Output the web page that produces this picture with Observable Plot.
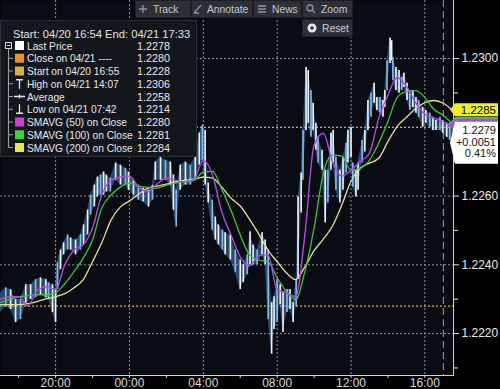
<!DOCTYPE html>
<html><head><meta charset="utf-8">
<script src="https://cdn.jsdelivr.net/npm/d3@7"></script>
<script src="https://cdn.jsdelivr.net/npm/@observablehq/plot@0.6"></script>
<style>
html,body{margin:0;padding:0;background:#000;}
#wrap{position:relative;width:500px;height:389px;overflow:hidden;background:#000;}
#wrap svg{display:block}
.ov{position:absolute;left:0;top:0;pointer-events:none;}
</style></head><body><div id="wrap"></div>
<script>
// ---------- DATA ----------
const barTimes = [
"04/20 16:55","04/20 17:18","04/20 17:34","04/20 17:50","04/20 18:06","04/20 18:23","04/20 18:39","04/20 18:55","04/20 19:11","04/20 19:28",
"04/20 19:37","04/20 19:50","04/20 20:00","04/20 20:06","04/20 20:16","04/20 20:26","04/20 20:39","04/20 20:49","04/20 21:05","04/20 21:21",
"04/20 21:31","04/20 21:44","04/20 21:54","04/20 22:06","04/20 22:16","04/20 22:26","04/20 22:36","04/20 22:45","04/20 22:58","04/20 23:15",
"04/20 23:31","04/20 23:47","04/20 23:57","04/21 00:13","04/21 00:29","04/21 00:45","04/21 01:02","04/21 01:15","04/21 01:24","04/21 01:41",
"04/21 01:57","04/21 02:13","04/21 02:23","04/21 02:32","04/21 02:45","04/21 03:02","04/21 03:18","04/21 03:34","04/21 03:47","04/21 03:57",
"04/21 04:06","04/21 04:16","04/21 04:29","04/21 04:39","04/21 04:49","04/21 05:02","04/21 05:11","04/21 05:28","04/21 05:44","04/21 06:00",
"04/21 06:10","04/21 06:23","04/21 06:32","04/21 06:42","04/21 06:55","04/21 07:11","04/21 07:21","04/21 07:31","04/21 07:42","04/21 07:50",
"04/21 08:00","04/21 08:10","04/21 08:19","04/21 08:32","04/21 08:42","04/21 08:52","04/21 09:02","04/21 09:08","04/21 09:18","04/21 09:24",
"04/21 09:34","04/21 09:41","04/21 09:50","04/21 09:57","04/21 10:06","04/21 10:13","04/21 10:26","04/21 10:36","04/21 10:45","04/21 10:55",
"04/21 11:02","04/21 11:11","04/21 11:24","04/21 11:34","04/21 11:44","04/21 11:50","04/21 12:00","04/21 12:06","04/21 12:16","04/21 12:23",
"04/21 12:36","04/21 12:45","04/21 12:55","04/21 13:05","04/21 13:15","04/21 13:24","04/21 13:34","04/21 13:44","04/21 13:50","04/21 13:57",
"04/21 14:07","04/21 14:12","04/21 14:16","04/21 14:26","04/21 14:36","04/21 14:45","04/21 14:52","04/21 15:02","04/21 15:11","04/21 15:21",
"04/21 15:31","04/21 15:40","04/21 15:53","04/21 16:03","04/21 16:16","04/21 16:26","04/21 16:36","04/21 16:49","04/21 16:58","04/21 17:11","04/21 17:21","04/21 17:33"
];
const barHigh = [
1.22313,1.22333,1.22328,1.22299,1.22299,1.22342,1.22342,1.22357,1.22362,1.22357,
1.22348,1.22342,1.22328,1.22406,1.22443,1.22464,1.22487,1.22478,1.22472,1.22487,
1.22516,1.22559,1.22603,1.22632,1.22655,1.22661,1.22670,1.22661,1.22652,1.22696,
1.22690,1.22681,1.22670,1.22646,1.22632,1.22623,1.22617,1.22632,1.22699,1.22713,
1.22704,1.22699,1.22661,1.22617,1.22690,1.22699,1.22690,1.22713,1.22783,1.22806,
1.22791,1.22638,1.22588,1.22539,1.22516,1.22501,1.22493,1.22487,1.22443,1.22414,
1.22400,1.22429,1.22496,1.22458,1.22443,1.22493,1.22472,1.22443,1.22290,1.22307,
1.22357,1.22342,1.22319,1.22328,1.22328,1.22290,1.22357,1.22597,1.22667,1.22791,
1.22974,1.22965,1.22907,1.22870,1.22812,1.22771,1.22733,1.22675,1.22675,1.22783,
1.22791,1.22713,1.22675,1.22713,1.22754,1.22791,1.22800,1.22696,1.22675,1.22696,
1.22762,1.22791,1.22878,1.22899,1.22928,1.22887,1.22887,1.22878,1.22907,1.22994,
1.23060,1.23052,1.23003,1.22974,1.22965,1.22945,1.22957,1.22928,1.22907,1.22907,
1.22887,1.22878,1.22858,1.22849,1.22841,1.22829,1.22820,1.22829,1.22820,1.22812,1.22812,1.22800
];
const barLow = [
1.22255,1.22278,1.22270,1.22232,1.22241,1.22284,1.22299,1.22304,1.22313,1.22304,
1.22299,1.22261,1.22232,1.22328,1.22386,1.22429,1.22443,1.22443,1.22429,1.22443,
1.22458,1.22487,1.22545,1.22568,1.22597,1.22603,1.22603,1.22612,1.22612,1.22646,
1.22632,1.22632,1.22617,1.22603,1.22588,1.22583,1.22568,1.22588,1.22646,1.22646,
1.22646,1.22632,1.22559,1.22510,1.22617,1.22632,1.22632,1.22646,1.22690,1.22704,
1.22632,1.22580,1.22501,1.22472,1.22458,1.22443,1.22429,1.22414,1.22377,1.22328,
1.22348,1.22371,1.22400,1.22400,1.22400,1.22429,1.22400,1.22241,1.22140,1.22212,
1.22232,1.22284,1.22203,1.22261,1.22270,1.22232,1.22278,1.22357,1.22551,1.22646,
1.22791,1.22812,1.22771,1.22791,1.22733,1.22696,1.22675,1.22522,1.22580,1.22675,
1.22696,1.22617,1.22580,1.22617,1.22667,1.22696,1.22713,1.22626,1.22597,1.22617,
1.22696,1.22728,1.22791,1.22829,1.22870,1.22849,1.22841,1.22829,1.22858,1.22907,
1.22986,1.22994,1.22936,1.22907,1.22899,1.22907,1.22916,1.22878,1.22849,1.22858,
1.22841,1.22829,1.22800,1.22812,1.22800,1.22791,1.22791,1.22791,1.22783,1.22771,1.22762,1.22770
];
const maTimes = [
"04/20 17:00","04/20 17:30","04/20 18:00","04/20 18:30","04/20 19:00","04/20 19:30","04/20 20:00","04/20 20:30","04/20 21:00","04/20 21:30",
"04/20 22:00","04/20 22:30","04/20 23:00","04/20 23:30","04/21 00:00","04/21 00:30","04/21 01:00","04/21 01:30","04/21 02:00","04/21 02:30",
"04/21 03:00","04/21 03:30","04/21 04:00","04/21 04:30","04/21 05:00","04/21 05:30","04/21 06:00","04/21 06:30","04/21 07:00","04/21 07:30",
"04/21 08:00","04/21 08:30","04/21 09:00","04/21 09:30","04/21 10:00","04/21 10:30","04/21 11:00","04/21 11:30","04/21 12:00","04/21 12:30",
"04/21 13:00","04/21 13:30","04/21 14:00","04/21 14:30","04/21 15:00","04/21 15:30","04/21 16:00","04/21 16:30","04/21 17:00","04/21 17:30"
];
const sma50 = [
1.22299,1.22307,1.22307,1.22281,1.22325,1.22336,1.22328,1.22400,1.22443,1.22458,
1.22507,1.22603,1.22646,1.22655,1.22658,1.22626,1.22612,1.22635,1.22652,1.22646,
1.22641,1.22649,1.22704,1.22661,1.22554,1.22487,1.22423,1.22397,1.22426,1.22429,
1.22328,1.22319,1.22307,1.22487,1.22748,1.22783,1.22699,1.22658,1.22675,1.22701,
1.22725,1.22826,1.22893,1.22945,1.22919,1.22872,1.22838,1.22826,1.22817,1.22800
];
const sma100 = [
1.22290,1.22299,1.22307,1.22310,1.22313,1.22313,1.22319,1.22345,1.22380,1.22420,
1.22472,1.22565,1.22603,1.22626,1.22638,1.22629,1.22626,1.22623,1.22632,1.22638,
1.22643,1.22646,1.22670,1.22672,1.22620,1.22559,1.22487,1.22429,1.22414,1.22409,
1.22362,1.22322,1.22299,1.22380,1.22507,1.22667,1.22719,1.22716,1.22675,1.22681,
1.22704,1.22754,1.22817,1.22887,1.22904,1.22907,1.22887,1.22852,1.22835,1.22809
];
const sma200 = [
1.22284,1.22284,1.22284,1.22287,1.22293,1.22301,1.22307,1.22316,1.22333,1.22357,
1.22409,1.22464,1.22530,1.22568,1.22586,1.22606,1.22623,1.22629,1.22635,1.22641,
1.22646,1.22649,1.22655,1.22652,1.22626,1.22594,1.22571,1.22533,1.22490,1.22443,
1.22409,1.22377,1.22357,1.22394,1.22441,1.22475,1.22513,1.22574,1.22643,1.22681,
1.22696,1.22710,1.22759,1.22803,1.22829,1.22855,1.22872,1.22878,1.22870,1.22849
];
const startPrice = 1.2228;
const closePrice = 1.2280;
const lastPrice = 1.2279;
const tag200 = 1.2285;
const netChange = "+0.0051";
const pctChange = "0.41%";
const yGridTicks = [1.2220, 1.2240, 1.2260, 1.2280, 1.2300];
const yLabelTicks = [1.2220, 1.2240, 1.2260, 1.2300];
const yMinorTicks = [1.2210, 1.2230, 1.2250, 1.2270, 1.2290];
const xTickTimes = ["04/20 20:00","04/21 00:00","04/21 04:00","04/21 08:00","04/21 12:00","04/21 16:00"];
const xMinorTimes = ["04/20 18:00","04/20 22:00","04/21 02:00","04/21 06:00","04/21 10:00","04/21 14:00"];
const sessionTime = "04/21 17:00";
const domainStart = "04/20 17:01";
const domainEnd = "04/21 17:33";
const yDomain = [1.22078, 1.23169];
const legendHeader = "Start: 04/20 16:54 End: 04/21 17:33";
const legendLabels = ["Last Price","Close on 04/21 ----","Start on 04/20 16:55","High on 04/21 14:07","Average","Low on 04/21 07:42","SMAVG (50) on Close","SMAVG (100) on Close","SMAVG (200) on Close"];
const legendValues = ["1.2278","1.2280","1.2228","1.2306","1.2258","1.2214","1.2280","1.2281","1.2284"];
const legendKinds = ["box","box","box","high","avg","low","box","box","box"];
const legendColors = ["#ffffff","#e8922e","#d6b33c",null,null,null,"#d43ad8","#33d433","#e8e842"];
const toolLabels = ["Track","Annotate","News","Zoom","Reset"];

// ---------- BUILD ----------
const parse = s => d3.utcParse("%Y/%m/%d %H:%M")("2018/" + s);
const bars = barTimes.map((t, i) => ({t: parse(t), hi: barHigh[i], lo: barLow[i], i}));
const ma = maTimes.map((t, i) => ({t: parse(t), v50: sma50[i], v100: sma100[i], v200: sma200[i]}));
const FONT = "'Liberation Sans', Arial, sans-serif";

const chart = Plot.plot({
  width: 500, height: 389,
  marginLeft: 0, marginTop: 0, marginRight: 47, marginBottom: 14,
  style: {background: "#000", color: "#e2e2e2", fontFamily: FONT, fontSize: "12px"},
  x: {type: "utc", domain: [parse(domainStart), parse(domainEnd)], label: null},
  y: {domain: yDomain, label: null},
  color: {type: "identity"},
  marks: [
    Plot.frame({fill: "#090c12", stroke: "none"}),
    Plot.ruleY(yGridTicks, {stroke: "#8d939b", strokeDasharray: "2,2", strokeWidth: 1}),
    Plot.ruleX(xTickTimes.map(parse), {stroke: "#8d939b", strokeDasharray: "2,2", strokeWidth: 1}),
    Plot.ruleX([parse(sessionTime)], {stroke: "#9aa0a8", strokeDasharray: "7,4", strokeWidth: 1}),
    Plot.ruleY([startPrice], {stroke: "#d8b640", strokeDasharray: "2,2", strokeWidth: 1.3}),
    Plot.ruleY([closePrice], {stroke: "#e3a050", strokeDasharray: "2,2", strokeWidth: 1.3}),
    Plot.areaY(bars, {x: "t", y1: "lo", y2: "hi", fill: "#4a88c6", fillOpacity: 0.5}),
    Plot.ruleX(bars, {x: "t", y1: "lo", y2: "hi", stroke: d => d.i % 3 === 1 ? "#86baec" : "#f2f6fa", strokeWidth: 1.6}),
    Plot.line(ma, {x: "t", y: "v200", stroke: "#e6df98", strokeWidth: 1.3, curve: "monotone-x"}),
    Plot.line(ma, {x: "t", y: "v100", stroke: "#3cc43c", strokeWidth: 1.3, curve: "monotone-x"}),
    Plot.line(ma, {x: "t", y: "v50", stroke: "#b248dc", strokeWidth: 1.4, curve: "monotone-x"}),
    Plot.frame({anchor: "bottom", stroke: "#cfd3d8"}),
    Plot.frame({anchor: "right", stroke: "#cfd3d8"}),
    Plot.axisX({ticks: xTickTimes.map(parse), tickFormat: d3.utcFormat("%H:%M"), tickSize: 3, tickPadding: 0, fontSize: 12, color: "#dadada", label: null}),
    Plot.axisX({ticks: xMinorTimes.map(parse), tickFormat: () => "", tickSize: 3, color: "#dadada", label: null}),
    Plot.axisY({anchor: "right", ticks: yLabelTicks, tickFormat: d3.format(".4f"), tickSize: 5, tickPadding: 3, fontSize: 12, color: "#ececec", label: null}),
    Plot.axisY({anchor: "right", ticks: yMinorTicks, tickFormat: () => "", tickSize: 4, color: "#ececec", label: null})
  ]
});
document.getElementById("wrap").appendChild(chart);

// ---------- OVERLAYS ----------
const ys = chart.scale("y");
const ov = d3.select("#wrap").append("svg").attr("class", "ov")
  .attr("width", 500).attr("height", 389).style("font-family", FONT);

// right-hand value tags
function tag(yTop, h, fill) {
  ov.append("path")
    .attr("d", `M450,${yTop + h / 2} L455,${yTop} L498,${yTop} L498,${yTop + h} L455,${yTop + h} Z`)
    .attr("fill", fill);
}
const yc200 = ys.apply(tag200);
tag(yc200 + 7, 12, "#3cc43c");
tag(yc200 + 9, 12, "#b248dc");
tag(yc200 - 6.5, 13, "#f2ef2a");
ov.append("text").attr("x", 496).attr("y", yc200 + 4.3).attr("text-anchor", "end")
  .attr("font-size", 11.5).attr("fill", "#000").text(d3.format(".4f")(tag200));
const ycLast = ys.apply(lastPrice);
tag(ycLast - 8.5, 42, "#ffffff");
[[d3.format(".4f")(lastPrice), 0], [netChange, 11.5], [pctChange, 23]].forEach(([s, dy]) => {
  ov.append("text").attr("x", 496).attr("y", ycLast + 4 + dy).attr("text-anchor", "end")
    .attr("font-size", 11).attr("fill", "#111").text(s);
});

// toolbar
const btns = [
  {x: 135, y: 0, w: 56, ix: 143, tx: 153},
  {x: 191, y: 0, w: 62, ix: 198, tx: 207},
  {x: 253, y: 0, w: 49, ix: 262, tx: 272},
  {x: 302, y: 0, w: 51, ix: 311, tx: 321},
  {x: 302, y: 19, w: 51, ix: 312, tx: 322}
];
btns.forEach((b, i) => {
  ov.append("rect").attr("x", b.x + 0.5).attr("y", b.y + 0.5).attr("width", b.w - 1).attr("height", 17)
    .attr("fill", "#2c3036").attr("stroke", "#1b1e22");
  ov.append("text").attr("x", b.tx).attr("y", b.y + 12.5).attr("font-size", 10.3)
    .attr("fill", "#c6cace").text(toolLabels[i]);
  const ix = b.ix, iy = b.y + 9;
  const ic = ov.append("g").attr("stroke", "#8e949a").attr("fill", "none").attr("stroke-width", 1.3);
  if (i === 0) { ic.append("path").attr("d", `M${ix-4},${iy} h8 M${ix},${iy-4} v8`); }
  if (i === 1) { ic.append("path").attr("d", `M${ix-4},${iy+4} L${ix+3},${iy-4} M${ix-4},${iy+4} h5`); }
  if (i === 2) { ic.append("path").attr("d", `M${ix-4},${iy-3} h8 M${ix-4},${iy} h8 M${ix-4},${iy+3} h8`); }
  if (i === 3) { ic.append("circle").attr("cx", ix - 1).attr("cy", iy - 1).attr("r", 3);
                 ic.append("path").attr("d", `M${ix+1},${iy+1} L${ix+4},${iy+4}`); }
  if (i === 4) { ic.append("circle").attr("cx", ix).attr("cy", iy).attr("r", 4.5).attr("fill", "#e8e8e8").attr("stroke", "none");
                 ic.append("circle").attr("cx", ix).attr("cy", iy).attr("r", 1.8).attr("fill", "#2c3036").attr("stroke", "none"); }
});

// legend box
ov.append("rect").attr("x", 0.5).attr("y", 20.5).attr("width", 196).attr("height", 136)
  .attr("fill", "#13171c").attr("stroke", "#2a2f35");
ov.append("text").attr("x", 13).attr("y", 37.5).attr("font-size", 11.2).attr("fill", "#e2e2e2").text(legendHeader);
const rowY = i => 45.5 + i * 12.75;
ov.append("line").attr("x1", 8.5).attr("x2", 8.5).attr("y1", rowY(0) + 3).attr("y2", rowY(8))
  .attr("stroke", "#9aa0a6");
ov.append("rect").attr("x", 5.5).attr("y", rowY(0) - 3).attr("width", 6).attr("height", 6)
  .attr("fill", "#13171c").attr("stroke", "#cfd3d7");
ov.append("line").attr("x1", 7).attr("x2", 10).attr("y1", rowY(0)).attr("y2", rowY(0)).attr("stroke", "#cfd3d7");
legendLabels.forEach((lab, i) => {
  const yc = rowY(i);
  if (i > 0) ov.append("line").attr("x1", 8.5).attr("x2", 13).attr("y1", yc).attr("y2", yc).attr("stroke", "#9aa0a6");
  const k = legendKinds[i];
  if (k === "box") {
    ov.append("rect").attr("x", 15).attr("y", yc - 4.5).attr("width", 9).attr("height", 9).attr("fill", legendColors[i]);
  } else {
    const g = ov.append("g").attr("stroke", "#e4e4e4").attr("stroke-width", 1.3).attr("fill", "none");
    if (k === "high") g.append("path").attr("d", `M16,${yc-4} h7 M19.5,${yc-4} v9`);
    if (k === "avg") g.append("path").attr("d", `M14,${yc} h11 M19.5,${yc-2} v4`);
    if (k === "low") g.append("path").attr("d", `M19.5,${yc-5} v9 M16,${yc+4} h7`);
  }
  ov.append("text").attr("x", 27).attr("y", yc + 4).attr("font-size", 10.2).attr("fill", "#e6e6e6").text(lab);
  ov.append("text").attr("x", 170).attr("y", yc + 4).attr("font-size", 10.8).attr("text-anchor", "end")
    .attr("fill", "#e6e6e6").text(legendValues[i]);
});
</script></body></html>
